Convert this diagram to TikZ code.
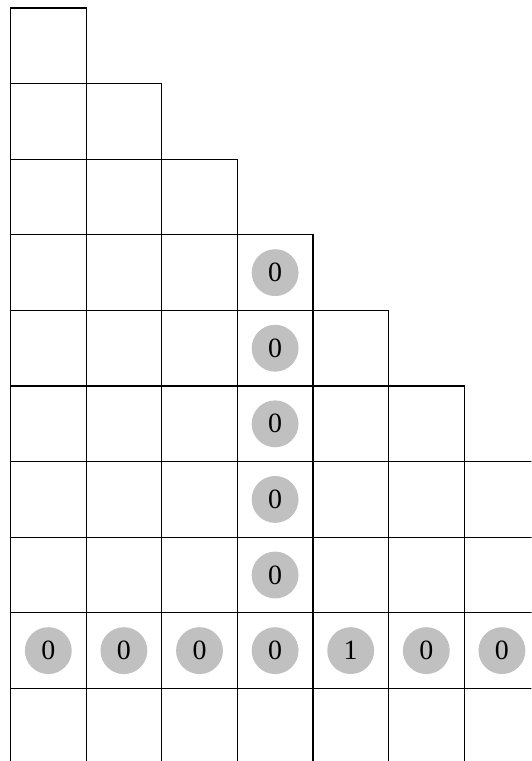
\documentclass[tikz,border=0pt]{standalone}
\usepackage{fontspec}
\setmainfont{Liberation Serif}
\definecolor{dotgray}{RGB}{192,192,192}
\begin{document}
\begin{tikzpicture}[x=1cm,y=1cm,
  cell/.style={draw, minimum size=1cm, inner sep=0pt, line width=0.45pt},
  vline/.style={line width=0.45pt},
  dot/.style={circle, fill=dotgray, minimum size=0.62cm, inner sep=0pt, font=\fontsize{10.5}{12}\selectfont}]
\useasboundingbox (-0.139,-9.96) rectangle (6.889,0.106);
\clip (-0.139,-9.96) rectangle (6.889,0.106);
\foreach \r in {0,...,8} {
  \pgfmathtruncatemacro\m{min(\r,6)}
  \foreach \c in {0,...,\m} {
    \node[cell] (c-\r-\c) at (\c+0.5,-\r-0.5) {};
  }
}
\foreach \c in {0,...,7} {
  \coordinate (b-\c) at (\c,-10.3);
  \draw[vline] (\c,-9) coordinate (t-\c) -- (b-\c);
}
\foreach \r in {3,...,7} {
  \node[dot] (d-\r-3) at (c-\r-3) {0};
}
\foreach \c/\v in {0/0,1/0,2/0,3/0,4/1,5/0,6/0} {
  \node[dot] (d-8-\c) at (c-8-\c) {\v};
}
\end{tikzpicture}
\end{document}
